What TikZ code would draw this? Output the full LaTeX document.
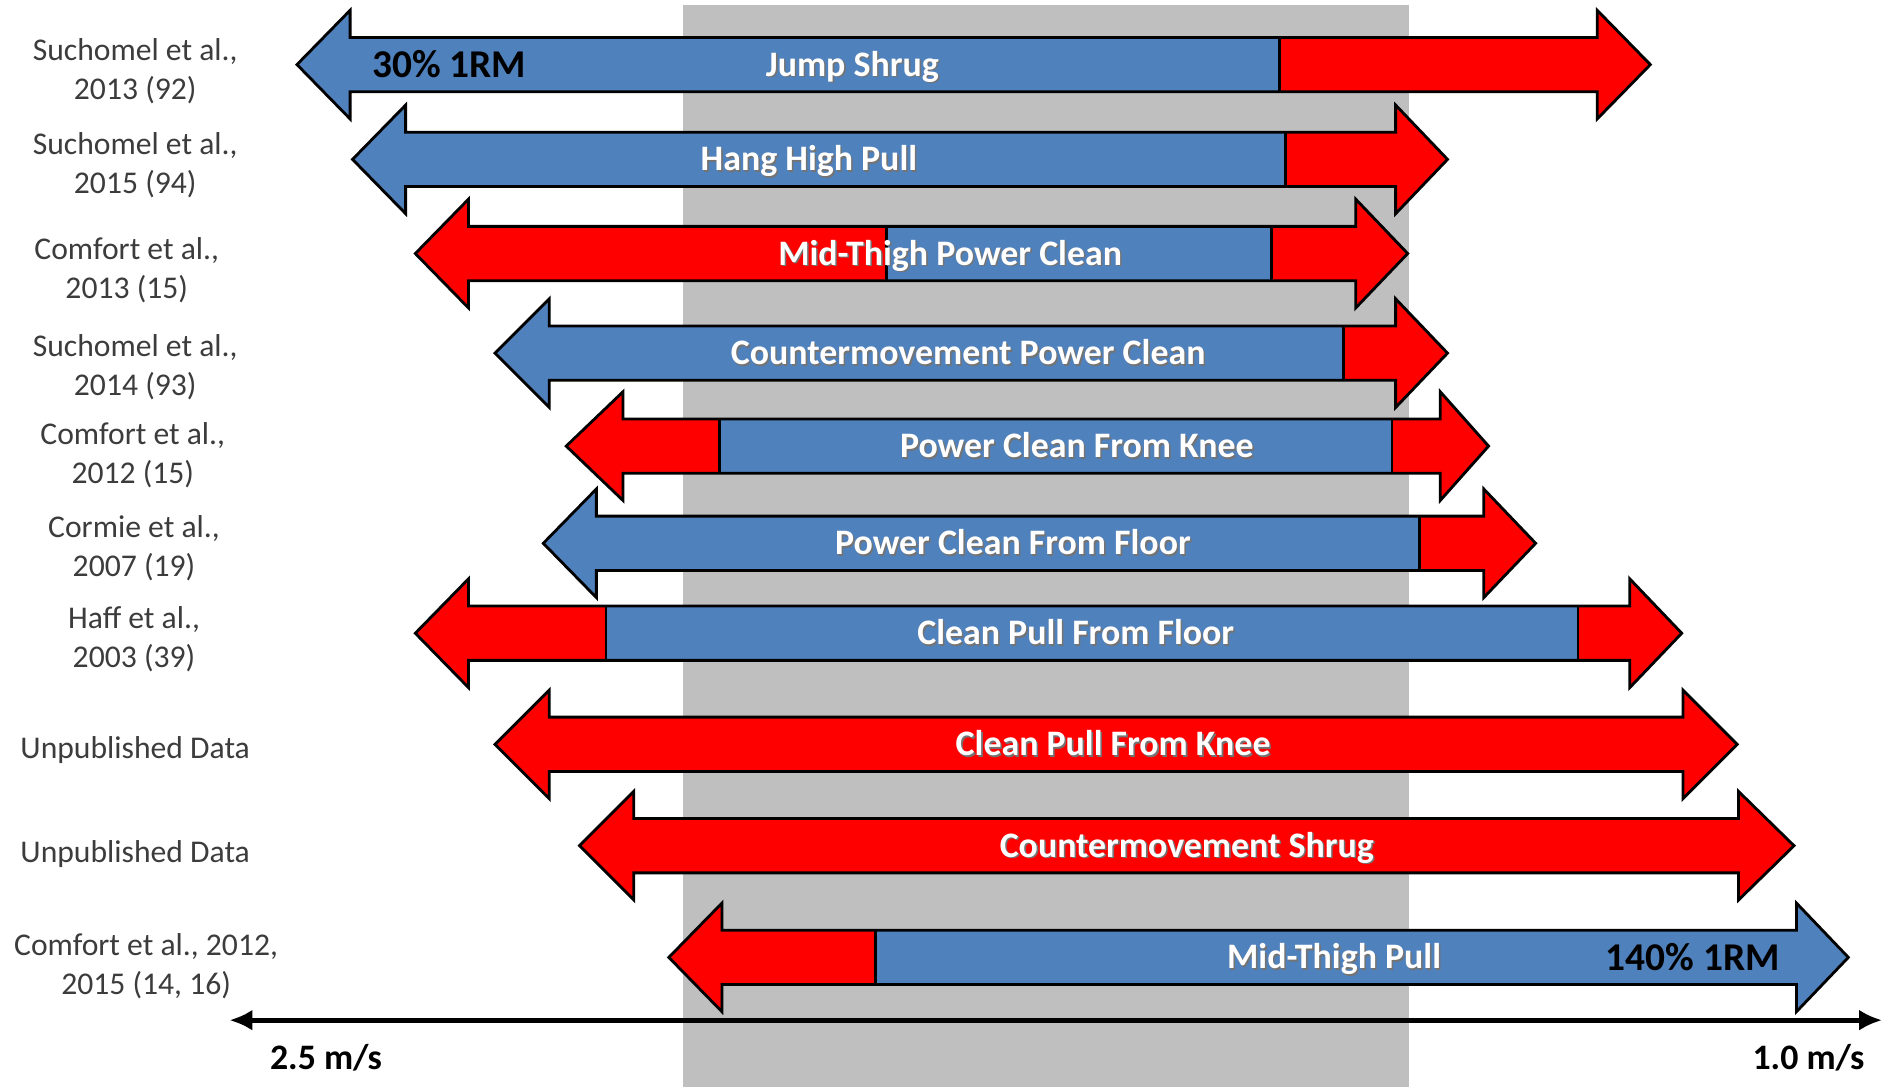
\documentclass[tikz,border=0pt]{standalone}
\usepackage{fontspec}
\setmainfont{Carlito}
\usetikzlibrary{arrows.meta}
\definecolor{barblue}{RGB}{79,129,189}
\definecolor{barred}{RGB}{255,0,0}
\definecolor{band}{RGB}{191,191,191}
\definecolor{reftext}{RGB}{60,60,60}
\newcommand{\shaftw}{22.5}
\newcommand{\headw}{45}
% outline of a block arrow: y, left tip, left base, right base, right tip
\newcommand{\blockarrow}[5]{(#2,#1) -- (#3,#1-\headw) -- (#3,#1-\shaftw) -- (#4,#1-\shaftw) -- (#4,#1-\headw) -- (#5,#1) -- (#4,#1+\headw) -- (#4,#1+\shaftw) -- (#3,#1+\shaftw) -- (#3,#1+\headw) -- cycle}
\begin{document}
\begin{tikzpicture}[x=0.12073mm, y=-0.12073mm,
    edge/.style={draw=black, line width=0.8pt, line join=miter},
    ref/.style={text=reftext, align=center, font=\fontsize{9}{11.1}\selectfont},
    bartext/.style={text=white, font=\fontsize{10.2}{12}\selectfont\bfseries, text height=6.6pt, text depth=0pt},
    barshadow/.style={bartext, text=black!55},
    load/.style={font=\fontsize{11.2}{13}\selectfont\bfseries, text height=7.2pt, text depth=0pt},
    speed/.style={font=\fontsize{10.2}{12}\selectfont\bfseries, text height=6.6pt, text depth=0pt},
    speedaxis/.style={{Latex[length=2.3mm,width=2.1mm]}-{Latex[length=2.3mm,width=2.1mm]}, line width=1.5pt}]
    \useasboundingbox (0,0) rectangle (1568,904);
    \fill[band] (566,4) rectangle (1167,900);
    % y / left tip / left base / right base / right tip / colour / split / colour / split / colour
    \foreach \y/\lt/\lb/\rb/\rt/\ca/\sa/\cb/\sb/\cc in {
        53.5/246/290/1323/1367/barblue/246/barblue/1060/barred,
        132/292/336/1156/1199/barblue/292/barblue/1065/barred,
        210/344/388/1123/1166/barred/734/barblue/1053/barred,
        292.5/410/455/1156/1199/barblue/410/barblue/1113/barred,
        369.5/469/516/1193/1233/barred/596/barblue/1153/barred,
        450/450/494/1229/1272/barblue/450/barblue/1176/barred,
        524.5/344/388/1350/1393/barred/502/barblue/1307/barred,
        616.5/410/455/1394/1439/barred/410/barred/1439/barred,
        700.5/480/525/1440/1486/barred/480/barred/1486/barred,
        793/554/598/1488/1531/barred/725/barblue/1531/barblue}{
        \fill[fill=\ca] \blockarrow{\y}{\lt}{\lb}{\rb}{\rt};
        \begin{scope}
            \clip \blockarrow{\y}{\lt}{\lb}{\rb}{\rt};
            \fill[fill=\cb] (\sa,\y-50) rectangle (\sb,\y+50);
            \fill[fill=\cc] (\sb,\y-50) rectangle (\rt,\y+50);
            \draw[edge] (\sa,\y-50) -- (\sa,\y+50) (\sb,\y-50) -- (\sb,\y+50);
        \end{scope}
        \draw[edge] \blockarrow{\y}{\lt}{\lb}{\rb}{\rt};
    }
    \foreach \x/\y/\t [count=\i] in {706/53.5/Jump Shrug, 670/132/Hang High Pull,
        787/210/Mid-Thigh Power Clean, 802/292.5/Countermovement Power Clean,
        892/369.5/Power Clean From Knee, 839/450/Power Clean From Floor,
        891/524.5/Clean Pull From Floor, 922/616.5/Clean Pull From Knee,
        983/700.5/Countermovement Shrug, 1105/793/Mid-Thigh Pull}{
        \node[barshadow] (shadow\i) at (\x+1.3,\y+1.3) {\t};
        \node[bartext] (bar\i) at (\x,\y) {\t};
    }
    \node[load] (light) at (372,53.5) {30\% 1RM};
    \node[load] (heavy) at (1402,793) {140\% 1RM};
    \foreach \x/\y/\t [count=\i] in {112/59/{Suchomel et al.,\\2013 (92)},
        112/136.5/{Suchomel et al.,\\2015 (94)}, 105/224/{Comfort et al.,\\2013 (15)},
        112/304.5/{Suchomel et al.,\\2014 (93)}, 110/377/{Comfort et al.,\\2012 (15)},
        111/454/{Cormie et al.,\\2007 (19)}, 111/529.5/{Haff et al.,\\2003 (39)},
        112/621/{Unpublished Data}, 112/707.5/{Unpublished Data},
        121/800/{Comfort et al., 2012,\\2015 (14, 16)}}{
        \node[ref] (ref\i) at (\x,\y) {\t};
    }
    \coordinate (fast) at (190,845);
    \coordinate (slow) at (1559,845);
    \draw[speedaxis] (fast) -- (slow);
    \node[speed] (fastlabel) at (270,876) {2.5 m/s};
    \node[speed] (slowlabel) at (1498,876) {1.0 m/s};
\end{tikzpicture}
\end{document}
